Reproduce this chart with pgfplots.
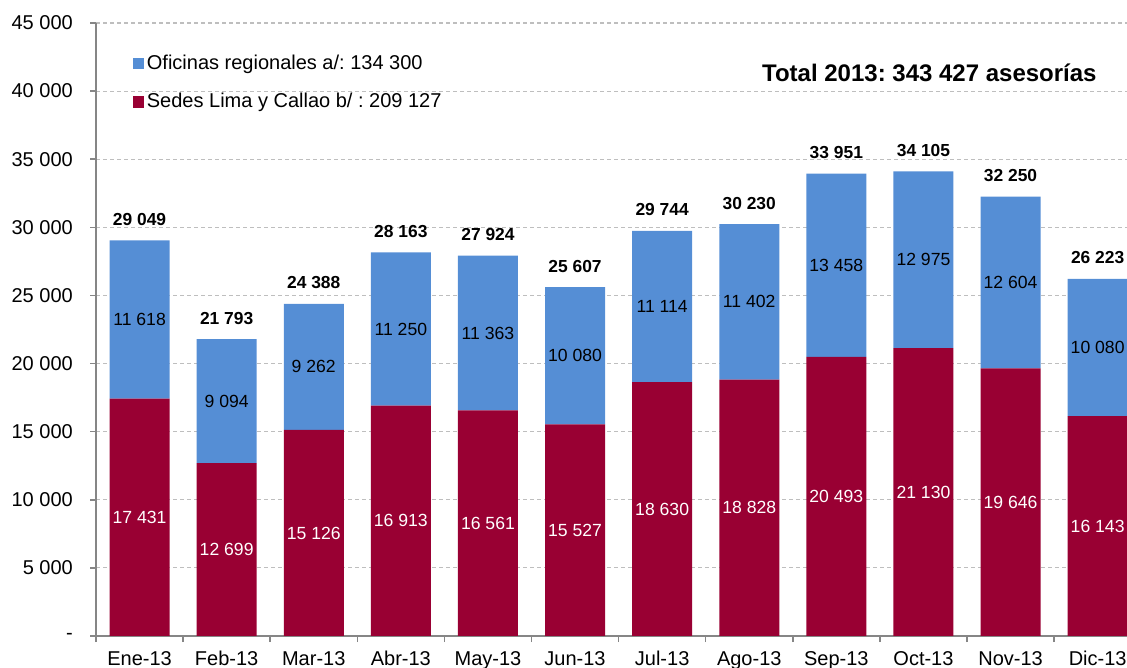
\documentclass[border=0pt]{standalone}
\usepackage{fontspec}
\setmainfont{Liberation Sans}
\usepackage{pgfplots}
\pgfplotsset{compat=1.18}
\frenchspacing
\definecolor{ofiblue}{RGB}{85,142,213}
\definecolor{sedered}{RGB}{153,0,51}
\definecolor{gridgray}{RGB}{190,190,190}
\definecolor{axisgray}{RGB}{134,134,134}
\tikzset{
  tot/.style={font=\bfseries\fontsize{8.7bp}{10bp}\selectfont, yshift=10.5bp, inner sep=0pt},
  inb/.style={font=\fontsize{8.8bp}{10bp}\selectfont, inner sep=0pt},
  inr/.style={font=\fontsize{8.8bp}{10bp}\selectfont, inner sep=0pt, text=white},
}

\begin{document}
\begin{tikzpicture}
\begin{axis}[
  at={(0,0)}, anchor=south west,
  scale only axis, width=515.5bp, height=306.5bp,
  ybar stacked, bar width=30bp,
  xmin=-0.5, xmax=11.337, ymin=0, ymax=45000,
  axis x line=bottom, axis y line=left,
  axis line style={axisgray, line width=0.75bp, -},
  tick align=outside, major tick length=3bp,
  tick style={axisgray, line width=0.75bp},
  xtick={-0.5,0.5,...,10.5}, xticklabels={},
  extra x ticks={0,1,...,11},
  extra x tick labels={Ene-13,Feb-13,Mar-13,Abr-13,May-13,Jun-13,Jul-13,Ago-13,Sep-13,Oct-13,Nov-13,Dic-13},
  extra x tick style={tick style={draw=none}, grid=none},
  ytick={0,5000,...,45000},
  yticklabels={-,5 000,10 000,15 000,20 000,25 000,30 000,35 000,40 000,45 000},
  scaled y ticks=false,
  ymajorgrids,
  major grid style={gridgray, dash pattern=on 2bp off 1.5bp, line width=0.6bp},
  /pgf/number format/assume math mode=true,
  tick label style={font=\fontsize{10bp}{12bp}\selectfont},
  yticklabel style={anchor=east, inner sep=0pt, xshift=-8.4bp},
  xticklabel style={anchor=base, inner sep=0pt, yshift=-11.8bp},
  legend style={at={(0.0356,0.9493)}, anchor=north west, draw=none, fill=none,
    inner sep=0pt, outer sep=0pt, row sep=11.16bp, column sep=1.5bp,
    cells={anchor=west},
    nodes={inner sep=0pt, text height=7.6bp, text depth=0.44bp},
    font=\fontsize{10bp}{12bp}\selectfont},
]
% Sedes Lima y Callao
\addplot[fill=sedered, draw=none, forget plot] coordinates {
  (0,17431) (1,12699) (2,15126) (3,16913) (4,16561) (5,15527)
  (6,18630) (7,18828) (8,20493) (9,21130) (10,19646) (11,16143)};
% Oficinas regionales
\addplot[fill=ofiblue, draw=none, forget plot] coordinates {
  (0,11618) (1,9094) (2,9262) (3,11250) (4,11363) (5,10080)
  (6,11114) (7,11402) (8,13458) (9,12975) (10,12604) (11,10080)};

\addlegendimage{legend image code/.code={\fill[ofiblue] (0bp,-3.2bp) rectangle (5.2bp,2bp);}}
\addlegendentry{Oficinas regionales a/: 134 300}
\addlegendimage{legend image code/.code={\fill[sedered] (0bp,-3.2bp) rectangle (5.2bp,2bp);}}
\addlegendentry{Sedes Lima y Callao b/ : 209 127}

% centros de los segmentos (las etiquetas van despues del axis)
\coordinate (r0) at (axis cs:0,8715.5);
\coordinate (r1) at (axis cs:1,6349.5);
\coordinate (r2) at (axis cs:2,7563);
\coordinate (r3) at (axis cs:3,8456.5);
\coordinate (r4) at (axis cs:4,8280.5);
\coordinate (r5) at (axis cs:5,7763.5);
\coordinate (r6) at (axis cs:6,9315);
\coordinate (r7) at (axis cs:7,9414);
\coordinate (r8) at (axis cs:8,10246.5);
\coordinate (r9) at (axis cs:9,10565);
\coordinate (r10) at (axis cs:10,9823);
\coordinate (r11) at (axis cs:11,8071.5);
\coordinate (b0) at (axis cs:0,23240);
\coordinate (b1) at (axis cs:1,17246);
\coordinate (b2) at (axis cs:2,19757);
\coordinate (b3) at (axis cs:3,22538);
\coordinate (b4) at (axis cs:4,22242.5);
\coordinate (b5) at (axis cs:5,20567);
\coordinate (b6) at (axis cs:6,24187);
\coordinate (b7) at (axis cs:7,24529);
\coordinate (b8) at (axis cs:8,27222);
\coordinate (b9) at (axis cs:9,27617.5);
\coordinate (b10) at (axis cs:10,25948);
\coordinate (b11) at (axis cs:11,21183);
% totales
\node[tot] at (axis cs:0,29049) {29 049};
\node[tot] at (axis cs:1,21793) {21 793};
\node[tot] at (axis cs:2,24388) {24 388};
\node[tot] at (axis cs:3,28163) {28 163};
\node[tot] at (axis cs:4,27924) {27 924};
\node[tot] at (axis cs:5,25607) {25 607};
\node[tot] at (axis cs:6,29744) {29 744};
\node[tot] at (axis cs:7,30230) {30 230};
\node[tot] at (axis cs:8,33951) {33 951};
\node[tot] at (axis cs:9,34105) {34 105};
\node[tot] at (axis cs:10,32250) {32 250};
\node[tot] at (axis cs:11,26223) {26 223};

\node[anchor=base east, inner sep=0pt, font=\bfseries\fontsize{12bp}{14bp}\selectfont]
  at (rel axis cs:0.9709,0.9044) {Total 2013: 343 427 asesorías};
\end{axis}
\foreach \i/\t in {0/17 431,1/12 699,2/15 126,3/16 913,4/16 561,5/15 527,
    6/18 630,7/18 828,8/20 493,9/21 130,10/19 646,11/16 143}
  \node[inr] at (r\i) {\t};
\foreach \i/\t in {0/11 618,1/9 094,2/9 262,3/11 250,4/11 363,5/10 080,
    6/11 114,7/11 402,8/13 458,9/12 975,10/12 604,11/10 080}
  \node[inb] at (b\i) {\t};
\pgfresetboundingbox
\useasboundingbox (-48bp,-16bp) rectangle (515.5bp,318bp);
\end{tikzpicture}
\end{document}
